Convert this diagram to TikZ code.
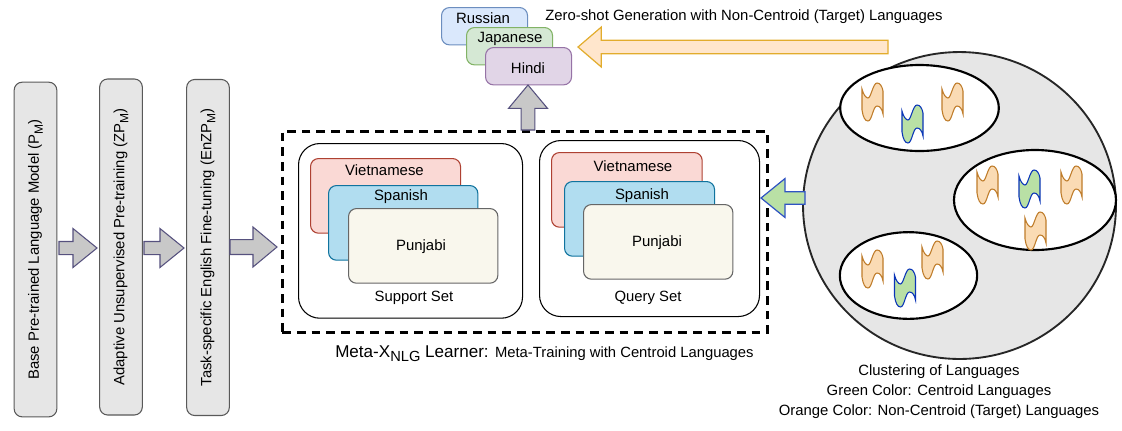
\documentclass[tikz,border=0pt]{standalone}
\usepackage{fontspec}
\setmainfont{Liberation Sans}
\usetikzlibrary{calc,shapes.geometric}
\definecolor{boxgrey}{HTML}{E6E6E6}
\definecolor{arrowfill}{HTML}{C8C8C8}
\definecolor{arrowline}{HTML}{56517E}
\definecolor{orfill}{HTML}{FAD7AC}
\definecolor{orline}{HTML}{B46504}
\definecolor{grfill}{HTML}{B9E0A5}
\definecolor{grline}{HTML}{0A35B8}
\definecolor{viline}{HTML}{AE4132}
\definecolor{vifill}{HTML}{FAD9D5}
\definecolor{esline}{HTML}{10739E}
\definecolor{esfill}{HTML}{B1DDF0}
\definecolor{paline}{HTML}{666666}
\definecolor{pafill}{HTML}{F9F7ED}
\definecolor{ruline}{HTML}{6C8EBF}
\definecolor{rufill}{HTML}{DAE8FC}
\definecolor{jaline}{HTML}{82B366}
\definecolor{jafill}{HTML}{D5E8D4}
\definecolor{hiline}{HTML}{9673A6}
\definecolor{hifill}{HTML}{E1D5E7}
\definecolor{yaline}{HTML}{E2AC2C}
\definecolor{yafill}{HTML}{FFE6CC}
\newcommand{\sbs}[1]{\raisebox{-0.28em}{\fontsize{9}{10}\selectfont #1}}
\tikzset{
  x=0.75pt,y=-0.75pt,
  pipebox/.style={draw=black!65,fill=boxgrey,rounded corners=6pt,line width=0.8pt,rotate=90,minimum height=32pt,inner sep=0pt,font=\fontsize{11.15}{13}\selectfont},
  setbox/.style={draw=black,fill=white,line width=0.8pt,rounded corners=16pt,anchor=north west,inner sep=0pt},
  langbox/.style={rounded corners=6pt,line width=0.8pt,anchor=north west,inner sep=0pt},
  vi/.style={langbox,draw=viline,fill=vifill},
  es/.style={langbox,draw=esline,fill=esfill},
  pa/.style={langbox,draw=paline,fill=pafill},
  lab/.style={inner sep=0pt,font=\fontsize{11.2}{13}\selectfont},
  smalllab/.style={inner sep=0pt,font=\fontsize{11.15}{13}\selectfont},
  greyarrow/.style={draw=arrowline,fill=arrowfill,line width=0.8pt},
  orangearrow/.style={draw=yaline,fill=yafill,line width=0.9pt},
  greenarrow/.style={draw=grline!85,fill=grfill,line width=0.9pt},
  cluster/.style={draw=black,fill=white,line width=1.6pt,ellipse,inner sep=0pt},
  oflag/.style={draw=orline!85,fill=orfill!90},
  gflag/.style={draw=grline,fill=grfill},
}
\newcommand{\blockarrow}[6]{%
  \coordinate (ahn) at ($(#2)!#4!(#1)$);
  \draw[#6] ($(#1)!#3!90:(#2)$) -- ($(ahn)!#3!90:(#2)$) -- ($(ahn)!#5!90:(#2)$) -- (#2)
    -- ($(ahn)!#5!-90:(#2)$) -- ($(ahn)!#3!-90:(#2)$) -- ($(#1)!#3!-90:(#2)$) -- cycle;
}
\newcommand{\flag}[3]{%
  \draw[#3,shift={(#1,#2)},line width=0.8pt]
    (0,5) .. controls (1.5,11) and (4,14) .. (6,14) .. controls (9,14) and (11,-1) .. (15,-1)
    .. controls (18,-1) and (20,2) .. (21,7)
    -- (21,30) .. controls (20,25) and (18,22) .. (15,22) .. controls (11,22) and (10,37) .. (6,37)
    .. controls (3,37) and (1,33) .. (0,26) -- cycle;
}
\begin{document}
\begin{tikzpicture}
\useasboundingbox (0,0) rectangle (1122,430);

% pipeline
\node[pipebox,minimum width=251pt] (p1) at (35.5,249.5) {Base Pre-trained Language Model (P\sbs{M})};
\node[pipebox,minimum width=252pt] (p2) at (121,247) {Adaptive Unsupervised Pre-training (ZP\sbs{M})};
\node[pipebox,minimum width=252pt] (p3) at (208,247.5) {Task-specific English Fine-tuning (EnZP\sbs{M})};

% meta-learner frame
\node[draw=black,line width=2pt,dash pattern=on 6.5pt off 4.5pt,minimum width=364pt,minimum height=151pt,inner sep=0pt,anchor=north west] (frame) at (281,130) {};

% support set
\node[setbox,minimum width=168pt,minimum height=131pt] (support) at (298,143) {};
\node[vi,minimum width=112.5pt,minimum height=56pt] (sv) at (310,158) {};
\node[es,minimum width=112pt,minimum height=56pt] (ss) at (328,185) {};
\node[pa,minimum width=112pt,minimum height=56pt] (sp) at (348,208) {};
\node[lab] at (384.5,170) {Vietnamese};
\node[lab] at (401,197) {Spanish};
\node[lab] at (421,247) {Punjabi};
\node[smalllab] at (414,298) {Support Set};

% query set
\node[setbox,minimum width=165pt,minimum height=132pt] (query) at (539,140) {};
\node[vi,minimum width=113pt,minimum height=56pt] (qv) at (551,152) {};
\node[es,minimum width=112.5pt,minimum height=56pt] (qs) at (564,181) {};
\node[pa,minimum width=112pt,minimum height=56pt] (qp) at (583,204) {};
\node[lab] at (633,166) {Vietnamese};
\node[lab] at (642,195.5) {Spanish};
\node[lab] at (657,242.5) {Punjabi};
\node[smalllab] at (648,298) {Query Set};

% target languages
\node[langbox,draw=ruline,fill=rufill,minimum width=64.5pt,minimum height=28pt] (ru) at (441,7) {};
\node[langbox,draw=jaline,fill=jafill,minimum width=64.5pt,minimum height=28pt] (ja) at (466,27) {};
\node[langbox,draw=hiline,fill=hifill,minimum width=64.5pt,minimum height=28pt] (hi) at (485,47) {};
\node[lab] at (483,18) {Russian};
\node[lab] at (510,39) {Japanese};
\node[lab] at (528,68) {Hindi};
\node[smalllab,anchor=west] at (545,17) {Zero-shot Generation with Non-Centroid (Target) Languages};

% caption of the learner
\node[inner sep=0pt,anchor=base west,font=\fontsize{12.8}{15}\selectfont] (mcap) at (335,357) {Meta-X\raisebox{-0.28em}{\fontsize{11}{13}\selectfont NLG} Learner: {\fontsize{11.1}{13}\selectfont Meta-Training with Centroid Languages}};

% big circle and clusters
\node[draw=black!85,fill=boxgrey,line width=1.4pt,ellipse,minimum width=234.7pt,minimum height=230.2pt,inner sep=0pt] (cloud) at (959.5,205.5) {};
\node[cluster,minimum width=119pt,minimum height=64.5pt] (c1) at (919.5,108) {};
\node[cluster,minimum width=121.5pt,minimum height=75pt] (c2) at (1035,200) {};
\node[cluster,minimum width=103pt,minimum height=65pt] (c3) at (908.5,275.5) {};
\flag{862}{84}{oflag}
\flag{902}{106}{gflag}
\flag{942}{84}{oflag}
\flag{977}{167}{oflag}
\flag{1019}{171}{gflag}
\flag{1061}{167}{oflag}
\flag{1025}{213}{oflag}
\flag{862}{251}{oflag}
\flag{894.5}{270}{gflag}
\flag{922}{242}{oflag}

\node[smalllab] (cl1) at (939,372) {Clustering of Languages};
\node[smalllab] (cl2) at (939,392) {Green Color: Centroid Languages};
\node[smalllab] (cl3) at (939,412) {Orange Color: Non-Centroid (Target) Languages};

% block arrows
\coordinate (a1t) at (59,248);  \coordinate (a1h) at (97,248);
\coordinate (a2t) at (144,248); \coordinate (a2h) at (184,248);
\coordinate (a3t) at (230,247); \coordinate (a3h) at (277,247);
\blockarrow{a1t}{a1h}{4.9pt}{18pt}{14.6pt}{greyarrow}
\blockarrow{a2t}{a2h}{4.9pt}{18pt}{14.6pt}{greyarrow}
\blockarrow{a3t}{a3h}{5.6pt}{18pt}{15pt}{greyarrow}
\coordinate (a4t) at (528,130); \coordinate (a4h) at (528,85);
\blockarrow{a4t}{a4h}{5.2pt}{17.5pt}{14.6pt}{greyarrow}
\coordinate (a5t) at (888,47); \coordinate (a5h) at (578,47);
\blockarrow{a5t}{a5h}{5pt}{17.5pt}{15pt}{orangearrow}
\coordinate (a6t) at (805,198); \coordinate (a6h) at (761,198);
\blockarrow{a6t}{a6h}{4.65pt}{18pt}{14.6pt}{greenarrow}
\end{tikzpicture}
\end{document}
